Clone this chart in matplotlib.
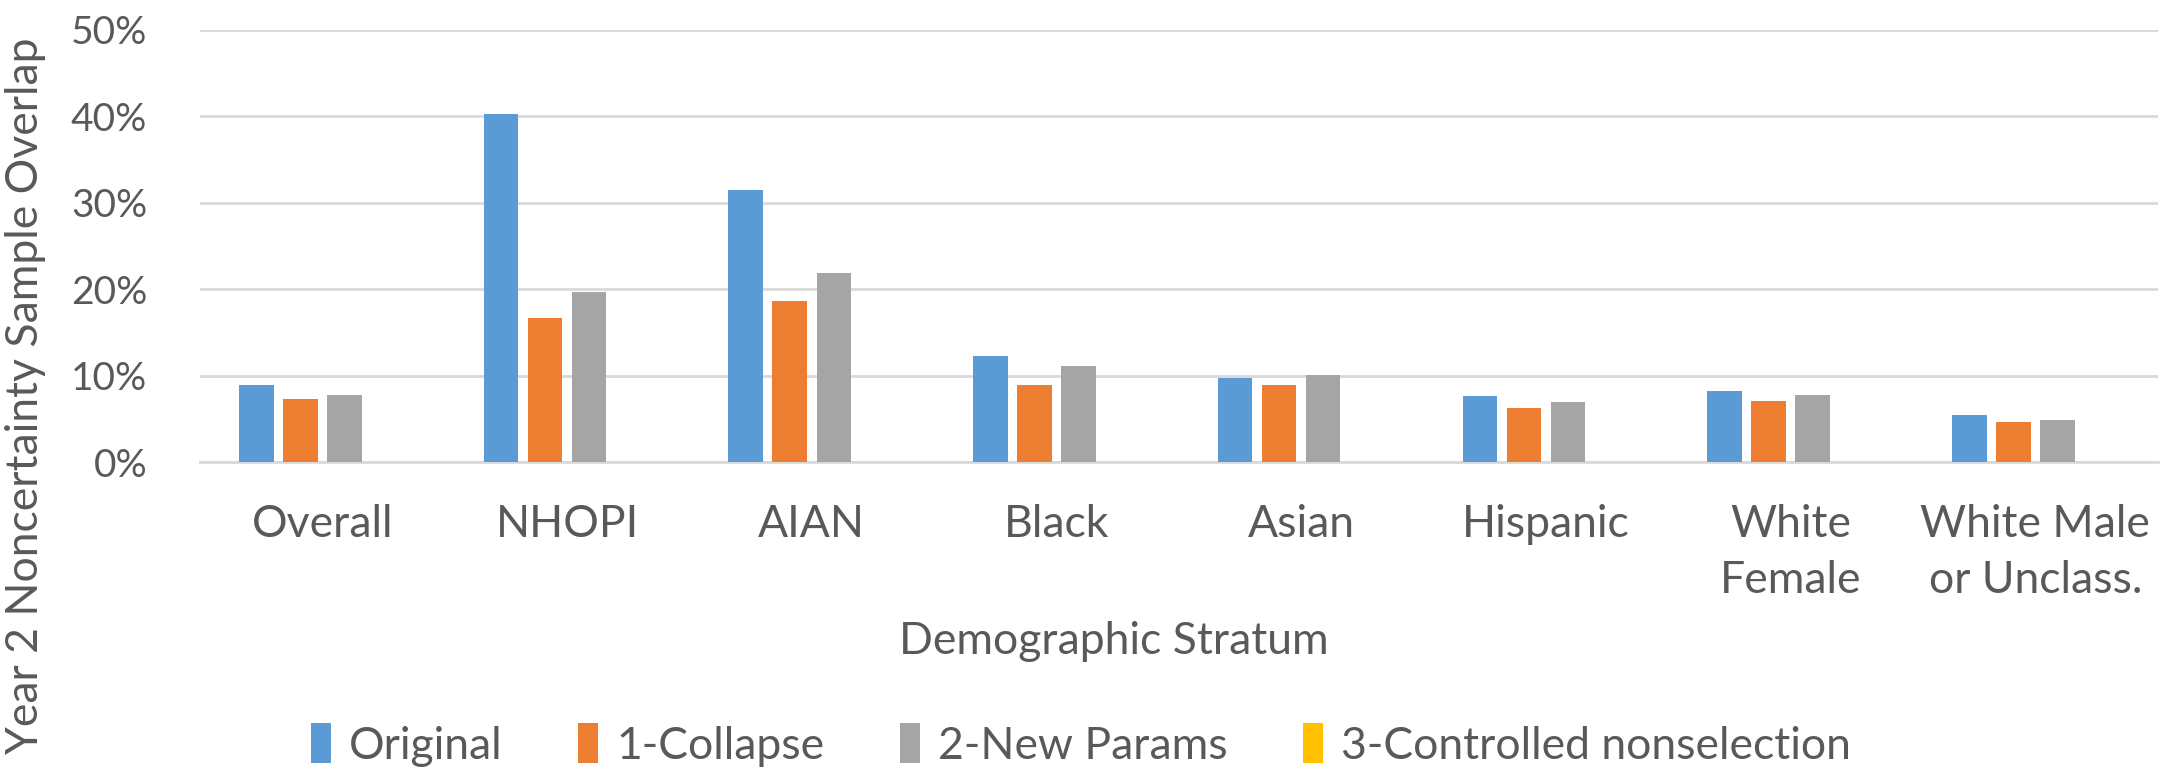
import numpy as np
from matplotlib import pyplot as plt

plt.rcParams.update({
    "font.family": ["Lato", "DejaVu Sans"],
    "font.size": 32,
    "text.color": "#595959",
    "axes.labelcolor": "#595959",
    "xtick.color": "#595959",
    "ytick.color": "#595959",
})

categories = ["Overall", "NHOPI", "AIAN", "Black", "Asian", "Hispanic",
              "White\nFemale", "White Male\nor Unclass."]
original = [8.9, 40.3, 31.5, 12.3, 9.7, 7.7, 8.3, 5.5]
collapse = [7.3, 16.7, 18.7, 9.0, 8.9, 6.3, 7.1, 4.7]
new_params = [7.8, 19.7, 21.9, 11.1, 10.1, 7.0, 7.8, 4.9]
controlled = [0, 0, 0, 0, 0, 0, 0, 0]

series = [
    ("Original", original, "#5B9BD5"),
    ("1-Collapse", collapse, "#ED7D31"),
    ("2-New Params", new_params, "#A5A5A5"),
    ("3-Controlled nonselection", controlled, "#FFC000"),
]

fig = plt.figure(figsize=(21.62, 7.68), dpi=100)
ax = fig.add_axes([0.0925, 0.398, 0.9055, 0.563])

x = np.arange(len(categories))
step = 0.18
width = 0.141
for i, (name, vals, color) in enumerate(series):
    ax.bar(x + (i - 1.5) * step, np.array(vals) / 100, width, color=color,
           label=name, zorder=3)

ax.set_xlim(-0.5, len(categories) - 0.5)
ax.set_ylim(0, 0.5)
yt = np.arange(0, 0.51, 0.1)
ax.set_yticks(yt)
ax.set_yticklabels([f"{int(round(v * 100))}%" for v in yt], fontsize=28)
ax.set_xticks(x)
ax.set_xticklabels(categories, linespacing=1.45)
ax.tick_params(axis="both", length=0)
ax.tick_params(axis="y", pad=38)
ax.tick_params(axis="x", pad=30)

ax.grid(axis="y", color="#D9D9D9", linewidth=2, zorder=0)
for s in ["top", "right", "left"]:
    ax.spines[s].set_visible(False)
ax.spines["bottom"].set_color("#D9D9D9")
ax.spines["bottom"].set_linewidth(2)

fig.text(0.515, 0.165, "Demographic Stratum", ha="center", va="center")
fig.text(0.012, 0.485, "Year 2 Noncertainty Sample Overlap", rotation=90,
         ha="center", va="center")

fig.legend(loc="center", bbox_to_anchor=(0.5, 0.03), ncol=4, frameon=False,
           handlelength=0.45, handleheight=1.0, handletextpad=0.4,
           columnspacing=1.7)

fig.savefig("out.png", dpi=100)
